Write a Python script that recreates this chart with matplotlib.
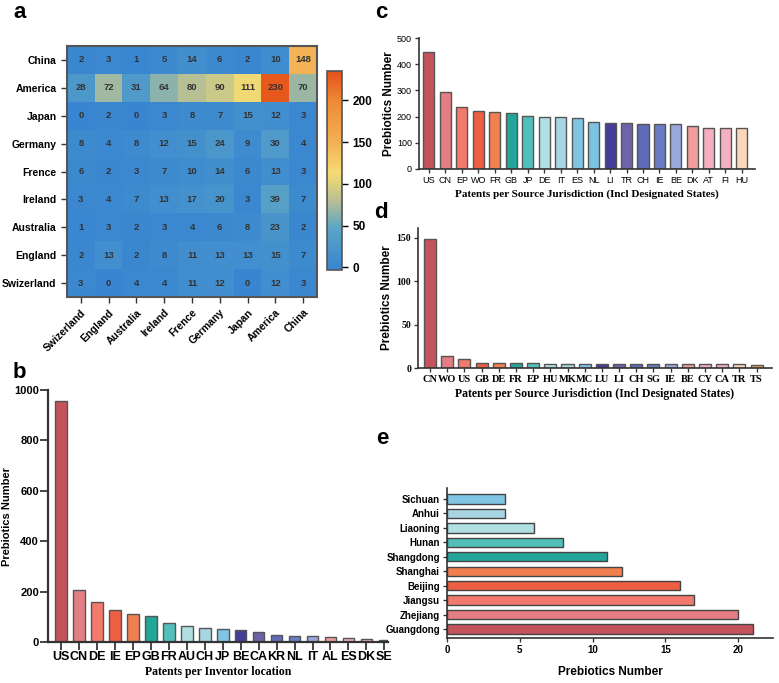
import matplotlib
matplotlib.use("Agg")
import matplotlib.pyplot as plt
import numpy as np
from matplotlib.colors import LinearSegmentedColormap

W, H = 779, 683
SANS = "Liberation Sans"
SERIF = "Liberation Serif"

# panel a: heatmap
heat_rows = ["China", "America", "Japan", "Germany", "Frence", "Ireland",
             "Australia", "England", "Swizerland"]
heat_cols = ["Swizerland", "England", "Australia", "Ireland", "Frence",
             "Germany", "Japan", "America", "China"]
heat_vals = [
    [2, 3, 1, 5, 14, 6, 2, 10, 148],
    [28, 72, 31, 64, 80, 90, 111, 230, 70],
    [0, 2, 0, 3, 8, 7, 15, 12, 3],
    [8, 4, 8, 12, 15, 24, 9, 30, 4],
    [6, 2, 3, 7, 10, 14, 6, 13, 3],
    [3, 4, 7, 13, 17, 20, 3, 39, 7],
    [1, 3, 2, 3, 4, 6, 8, 23, 2],
    [2, 13, 2, 8, 11, 13, 13, 15, 7],
    [3, 0, 4, 4, 11, 12, 0, 12, 3],
]

# panel b: inventor location
b_labels = ["US", "CN", "DE", "IE", "EP", "GB", "FR", "AU", "CH", "JP", "BE",
            "CA", "KR", "NL", "IT", "AL", "ES", "DK", "SE"]
b_vals = [955, 208, 158, 128, 113, 105, 74, 65, 55, 53, 48, 38, 26, 25, 22,
          19, 17, 13, 6]

# panel c: source jurisdiction
c_labels = ["US", "CN", "EP", "WO", "FR", "GB", "JP", "DE", "IT", "ES", "NL",
            "LI", "TR", "CH", "IE", "BE", "DK", "AT", "FI", "HU"]
c_vals = [448, 292, 238, 223, 217, 215, 204, 200, 197, 195, 178, 176, 175,
          173, 172, 171, 164, 157, 156, 156]

# panel d: source jurisdiction (China)
d_labels = ["CN", "WO", "US", "GB", "DE", "FR", "EP", "HU", "MK", "MC", "LU",
            "LI", "CH", "SG", "IE", "BE", "CY", "CA", "TR", "TS"]
d_vals = [148, 14, 10, 6, 6, 6, 6, 5, 5, 5, 5, 5, 5, 5, 5, 5, 5, 5, 5, 4]

# panel e: provinces
e_labels = ["Guangdong", "Zhejiang", "Jiangsu", "Beijing", "Shanghai",
            "Shangdong", "Hunan", "Liaoning", "Anhui", "Sichuan"]
e_vals = [21, 20, 17, 16, 12, 11, 8, 6, 4, 4]

palette = ["#c4545b", "#e57e84", "#f27a6c", "#ee5e42", "#f08050", "#23a599",
           "#52c0ba", "#b0e0e4", "#a9d4e2", "#80c6e4", "#7cc3e2", "#463d9b",
           "#6e62aa", "#5f6ab8", "#6a7cc4", "#9aa8dc", "#f29e9e", "#f4afc0",
           "#f5b0c2", "#fbd5b8"]
b_colors = palette[:10] + ["#463d9b", "#6e62aa", "#5f6ab8", "#6a7cc4",
                           "#9aa8dc", "#f29e9e", "#f4afc0", "#f5b0c2", "#555555"]
d_colors = palette[:10] + ["#463d9b", "#6e62aa", "#5f6ab8", "#6a7cc4",
                           "#9aa8dc", "#f29e9e", "#f4afc0", "#f5b0c2",
                           "#fbd5b8", "#f0a860"]

fig = plt.figure(figsize=(W / 100, H / 100), dpi=100)


def px_axes(x0, y0, x1, y1):
    return fig.add_axes([x0 / W, 1 - y1 / H, (x1 - x0) / W, (y1 - y0) / H])


def style_bar_axes(ax, lw=1.6, ticklen=5, pad=2):
    ax.spines["top"].set_visible(False)
    ax.spines["right"].set_visible(False)
    for s in ("left", "bottom"):
        ax.spines[s].set_linewidth(lw)
        ax.spines[s].set_color("#333333")
    ax.tick_params(length=ticklen, width=lw * 0.8, color="#333333", pad=pad)


# ---- a ----
cmap = LinearSegmentedColormap.from_list("heat", [
    (0.0, "#3784d2"), (0.21, "#5ca6c6"), (0.34, "#b3bd98"), (0.43, "#dcd27c"),
    (0.49, "#f6da74"), (0.64, "#f3b154"), (0.85, "#ee8a36"), (1.0, "#e6511a")])
ax_a = px_axes(67, 46, 317, 297)
im = ax_a.imshow(np.array(heat_vals), cmap=cmap, vmin=-3, vmax=235, aspect="auto")
for i, row in enumerate(heat_vals):
    for j, v in enumerate(row):
        ax_a.text(j, i, str(v), ha="center", va="center", fontsize=6.8,
                  fontweight="bold", color="#333333", family=SANS)
ax_a.set_xticks(range(len(heat_cols)))
ax_a.set_xticklabels(heat_cols, rotation=45, ha="right", rotation_mode="anchor",
                     fontsize=7.5, fontweight="bold", family=SANS)
ax_a.set_yticks(range(len(heat_rows)))
ax_a.set_yticklabels(heat_rows, fontsize=7.5, fontweight="bold", family=SANS)
ax_a.tick_params(length=4, width=1, color="#333333")
for s in ax_a.spines.values():
    s.set_linewidth(1.5)
    s.set_color("#555555")

cax = px_axes(327, 71, 342, 270)
cb = fig.colorbar(im, cax=cax, ticks=[0, 50, 100, 150, 200])
cb.outline.set_linewidth(1.2)
cb.outline.set_edgecolor("#555555")
cax.tick_params(length=4, width=1, labelsize=8.5)
for t in cax.get_yticklabels():
    t.set_fontweight("bold")
    t.set_family(SANS)

# ---- b ----
ax_b = px_axes(48, 390, 388, 642)
xb = np.arange(len(b_labels))
ax_b.bar(xb, b_vals, width=0.65, color=b_colors, edgecolor="#555555", linewidth=1)
ax_b.set_xlim(-0.72, 18.2)
ax_b.set_ylim(0, 1000)
ax_b.set_yticks([0, 200, 400, 600, 800, 1000])
ax_b.set_xticks(xb)
ax_b.set_xticklabels(b_labels, fontsize=9, fontweight="bold", family=SANS)
for t in ax_b.get_yticklabels():
    t.set_fontsize(8)
    t.set_fontweight("bold")
    t.set_family(SANS)
style_bar_axes(ax_b, lw=1.6, ticklen=5.5, pad=1)
ax_b.set_ylabel("Prebiotics Number", fontsize=8, fontweight="bold", family=SANS)
ax_b.yaxis.set_label_coords(-0.105, 0.5)
ax_b.set_xlabel("Patents per Inventor location", fontsize=8.5, fontweight="bold",
                family=SERIF, labelpad=2)

# ---- c ----
ax_c = px_axes(419, 38, 755, 169)
xc = np.arange(len(c_labels))
ax_c.bar(xc, c_vals, width=0.67, color=palette, edgecolor="#555555", linewidth=1)
ax_c.set_xlim(-0.6, 19.8)
ax_c.set_ylim(0, 500)
ax_c.set_yticks([0, 100, 200, 300, 400, 500])
ax_c.set_xticks(xc)
ax_c.set_xticklabels(c_labels, fontsize=6.5, family=SANS)
for t in ax_c.get_yticklabels():
    t.set_fontsize(6.5)
    t.set_family(SANS)
style_bar_axes(ax_c, lw=1.2, ticklen=3)
ax_c.set_ylabel("Prebiotics Number", fontsize=8.5, fontweight="bold", family=SANS)
ax_c.yaxis.set_label_coords(-0.07, 0.5)
ax_c.set_xlabel("Patents per Source Jurisdiction (Incl Designated States)",
                fontsize=8, fontweight="bold", family=SERIF, labelpad=3)

# ---- d ----
ax_d = px_axes(418, 228, 772, 368)
xd = np.arange(len(d_labels))
ax_d.bar(xd, d_vals, width=0.7, color=d_colors, edgecolor="#555555", linewidth=1)
ax_d.set_xlim(-0.7, 19.9)
ax_d.set_ylim(0, 161)
ax_d.set_yticks([0, 50, 100, 150])
ax_d.set_xticks(xd)
ax_d.set_xticklabels(d_labels, fontsize=7.5, fontweight="bold", family=SERIF)
for t in ax_d.get_yticklabels():
    t.set_fontsize(7)
    t.set_fontweight("bold")
    t.set_family(SERIF)
style_bar_axes(ax_d, lw=1.2, ticklen=3)
ax_d.set_ylabel("Prebiotics Number", fontsize=8.5, fontweight="bold", family=SANS)
ax_d.yaxis.set_label_coords(-0.07, 0.5)
ax_d.set_xlabel("Patents per Source Jurisdiction (Incl Designated States)",
                fontsize=8.5, fontweight="bold", family=SERIF, labelpad=3)

# ---- e ----
ax_e = px_axes(447, 488, 773, 638)
ye = np.arange(len(e_labels))
ax_e.barh(ye, e_vals, height=0.65, color=palette[:10], edgecolor="#444444",
          linewidth=1)
ax_e.set_xlim(0, 22.4)
ax_e.set_ylim(-0.62, 9.76)
ax_e.set_xticks([0, 5, 10, 15, 20])
ax_e.set_yticks(ye)
ax_e.set_yticklabels(e_labels, fontsize=7, fontweight="bold", family=SANS)
for t in ax_e.get_xticklabels():
    t.set_fontsize(7)
    t.set_fontweight("bold")
    t.set_family(SANS)
style_bar_axes(ax_e, lw=1.2, ticklen=3)
ax_e.set_xlabel("Prebiotics Number", fontsize=8.5, fontweight="bold", family=SANS,
                labelpad=8)

# panel letters
for lab, x, y in [("a", 13, 12), ("b", 13, 372), ("c", 375, 12), ("d", 374, 212),
                  ("e", 376, 438)]:
    fig.text(x / W, 1 - y / H, lab, fontsize=16, fontweight="bold", family=SANS,
             ha="left", va="center")

fig.savefig("out.png", dpi=100)
